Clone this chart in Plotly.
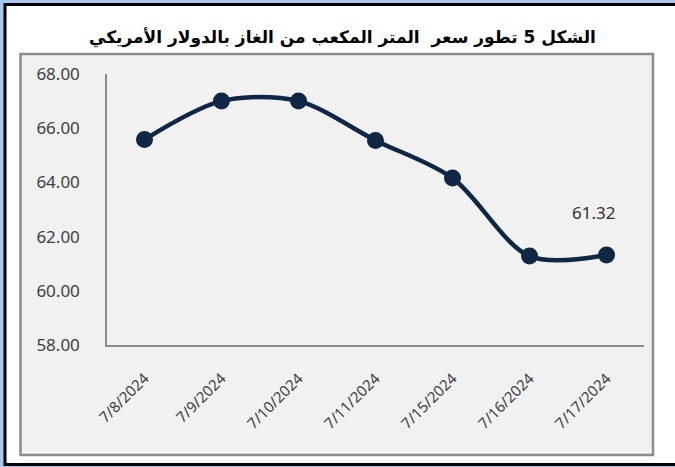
import plotly.graph_objects as go

dates = ["7/8/2024", "7/9/2024", "7/10/2024", "7/11/2024", "7/15/2024", "7/16/2024", "7/17/2024"]
prices = [65.58, 67.00, 67.00, 65.55, 64.16, 61.28, 61.32]
y_ticks = [58, 60, 62, 64, 66, 68]
title_text = "الشكل 5 تطور سعر  المتر المكعب من الغاز بالدولار الأمريكي"
last_label = "61.32"

W, H = 675, 467
L, R, T, B = 107, 644, 74, 345  # plot area in pixels

def px(x):
    return (x - L) / (R - L)

def py(y):
    return (B - y) / (B - T)

navy = "#0f2744"
blue_bg = "#a9c8ef"

fig = go.Figure()
fig.add_trace(go.Scatter(
    x=dates, y=prices, mode="lines+markers",
    line=dict(color=navy, width=4.5, shape="spline", smoothing=0.9),
    marker=dict(color=navy, size=17),
    hoverinfo="x+y", showlegend=False,
))

shapes = [
    # white card with black border on left/top/bottom
    dict(type="rect", xref="paper", yref="paper",
         x0=px(5), x1=px(690), y0=py(464.5), y1=py(4.5),
         fillcolor="white", line=dict(color="black", width=3), layer="below"),
    # inner grey box
    dict(type="rect", xref="paper", yref="paper",
         x0=px(20.5), x1=px(653), y0=py(455), y1=py(54),
         fillcolor="#f1f1f1", line=dict(color="#8c8c8c", width=2.5), layer="below"),
]

annotations = [
    dict(text="<b>" + title_text + "</b>", xref="paper", yref="paper",
         x=px(342), y=py(37), showarrow=False, xanchor="center", yanchor="middle",
         font=dict(family="DejaVu Sans", size=17, color="black")),
    dict(text=last_label, x=dates[-1], y=prices[-1], xref="x", yref="y",
         showarrow=False, xshift=-13, yshift=43,
         font=dict(family="Noto Sans", size=17, color="#333333")),
]

fig.update_layout(
    width=W, height=H,
    margin=dict(l=L, r=W - R, t=T, b=H - B, pad=0),
    paper_bgcolor=blue_bg,
    plot_bgcolor="rgba(0,0,0,0)",
    shapes=shapes,
    annotations=annotations,
    font=dict(family="Noto Sans", size=17, color="#404040"),
    xaxis=dict(
        type="category", showline=True, linecolor="#8c8c8c", linewidth=1.5,
        showgrid=False, zeroline=False, tickangle=-45,
        ticks="outside", ticklen=17, tickcolor="rgba(0,0,0,0)",
        tickfont=dict(size=15, color="#404040"),
    ),
    yaxis=dict(
        range=[58, 68], tickvals=y_ticks, tickformat=".2f",
        showline=True, linecolor="#8c8c8c", linewidth=1.5,
        showgrid=False, zeroline=False,
        ticks="outside", ticklen=22, tickcolor="rgba(0,0,0,0)",
        tickfont=dict(size=17, color="#404040"),
    ),
)

fig.write_html(
    "out.html",
    config={"displayModeBar": False},
    post_script="document.body.style.margin='0';document.body.style.overflow='hidden';"
                "document.body.style.background='" + blue_bg + "';",
)
